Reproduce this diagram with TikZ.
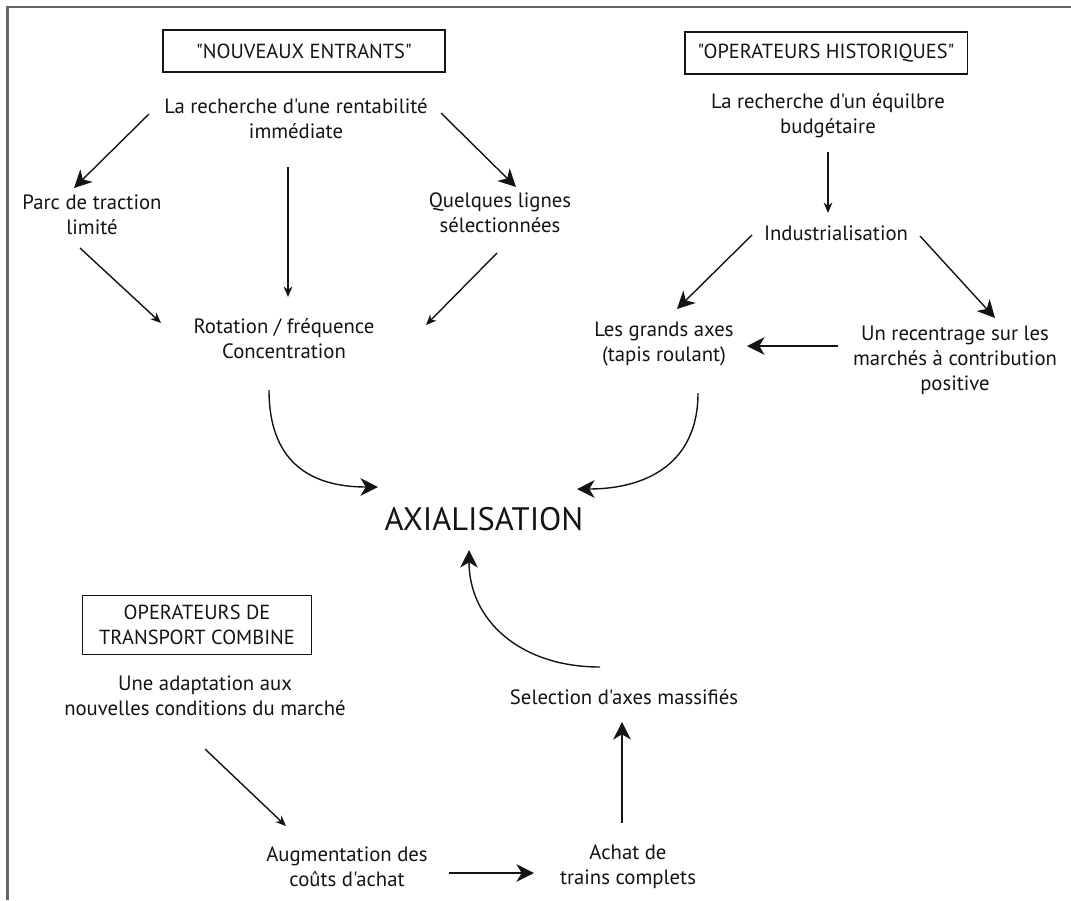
\documentclass[tikz,border=0pt]{standalone}
\usepackage{fontspec}
\setmainfont{PT Sans}[Ligatures=TeXOff]
\usetikzlibrary{arrows.meta}

\begin{document}
\begin{tikzpicture}[x=0.02cm,y=-0.02cm,
  txt/.style={align=center,inner sep=0pt,text=ink,font=\fontsize{11.8}{14.2}\selectfont},
  tag/.style={txt,draw=ink,line width=1.1pt,font=\fontsize{11.6}{14.2}\selectfont},
  bigarr/.style={-{Stealth[length=10pt,width=10pt,inset=3pt]},line width=0.8pt,draw=ink},
  smallarr/.style={-{Stealth[length=6pt,width=5pt]},line width=0.8pt,draw=ink}]

  \definecolor{ink}{rgb}{0.08,0.08,0.08}
  \definecolor{framegray}{rgb}{0.4,0.4,0.4}

  \useasboundingbox (0,0) rectangle (1071,900);
  \draw[framegray,line width=1.2pt] (7.5,900) -- (7.5,7) -- (1071,7);

  % the three groups
  \node[tag,minimum width=5.64cm,minimum height=0.84cm] (newbox) at (304,51) {"NOUVEAUX ENTRANTS"};
  \node[tag,minimum width=5.66cm,minimum height=0.84cm] (oldbox) at (826,53) {"OPERATEURS HISTORIQUES"};
  \node[tag,line width=0.7pt,minimum width=4.58cm,minimum height=1.18cm] (combbox) at (197,625) {OPERATEURS DE\\TRANSPORT COMBINE};

  \node[txt] (rentab) at (296,119) {La recherche d'une rentabilité\\immédiate};
  \node[txt] (parc) at (92,215) {Parc de traction\\limité};
  \node[txt] (quelq) at (500,213) {Quelques lignes\\sélectionnées};
  \node[txt] (rotat) at (284,339) {Rotation / fréquence\\Concentration};

  \node[txt] (equil) at (828,116) {La recherche d'un équilbre\\budgétaire};
  \node[txt] (indus) at (836,233) {Industrialisation};
  \node[txt] (grands) at (664,344) {Les grands axes\\(tapis roulant)};
  \node[txt] (recent) at (955,360) {Un recentrage sur les\\marchés à contribution\\positive};

  \node[txt,font=\fontsize{18.5}{20}\selectfont] (axial) at (484,519) {AXIALISATION};

  \node[txt] (adapt) at (205,696) {Une adaptation aux\\nouvelles conditions du marché};
  \node[txt] (augm) at (347,867) {Augmentation des\\coûts d'achat};
  \node[txt] (achat) at (628,867) {Achat de\\trains complets};
  \node[txt] (select) at (624,697) {Selection d'axes massifiés};

  \draw[bigarr] ([shift={(-147,-5)}]rentab.center) -- ([shift={(-18,-27)}]parc.center);
  \draw[smallarr] ([shift={(-8,48)}]rentab.center) -- ([shift={(4,-42)}]rotat.center);
  \draw[bigarr] ([shift={(145,-6)}]rentab.center) -- ([shift={(16,-26)}]quelq.center);
  \draw[smallarr] ([shift={(-12,33)}]parc.center) -- ([shift={(-123,-16)}]rotat.center);
  \draw[smallarr] ([shift={(-3,40)}]quelq.center) -- ([shift={(142,-14)}]rotat.center);

  \draw[smallarr] ([shift={(0,36)}]equil.center) -- ([shift={(-8,-20)}]indus.center);
  \draw[bigarr] ([shift={(-84,2)}]indus.center) -- ([shift={(13,-35)}]grands.center);
  \draw[bigarr] ([shift={(84,3)}]indus.center) -- ([shift={(40,-42)}]recent.center);
  \draw[bigarr] ([shift={(-117,-14)}]recent.center) -- ([shift={(83,2)}]grands.center);

  \draw[bigarr] ([shift={(-15,51)}]rotat.center) .. controls +(0,70) and +(-70,0) .. ([shift={(-106,-32)}]axial.center);
  \draw[bigarr] ([shift={(34,49)}]grands.center) .. controls +(0,70) and +(70,0) .. ([shift={(93,-30)}]axial.center);
  \draw[bigarr] ([shift={(-24,-30)}]select.center) .. controls +(-80,0) and +(0,70) .. ([shift={(-15,31)}]axial.center);

  \draw[smallarr] ([shift={(0,53)}]adapt.center) -- ([shift={(-61,-41)}]augm.center);
  \draw[bigarr] ([shift={(102,6)}]augm.center) -- ([shift={(-94,6)}]achat.center);
  \draw[bigarr] ([shift={(-6,-44)}]achat.center) -- ([shift={(-2,25)}]select.center);
\end{tikzpicture}
\end{document}
